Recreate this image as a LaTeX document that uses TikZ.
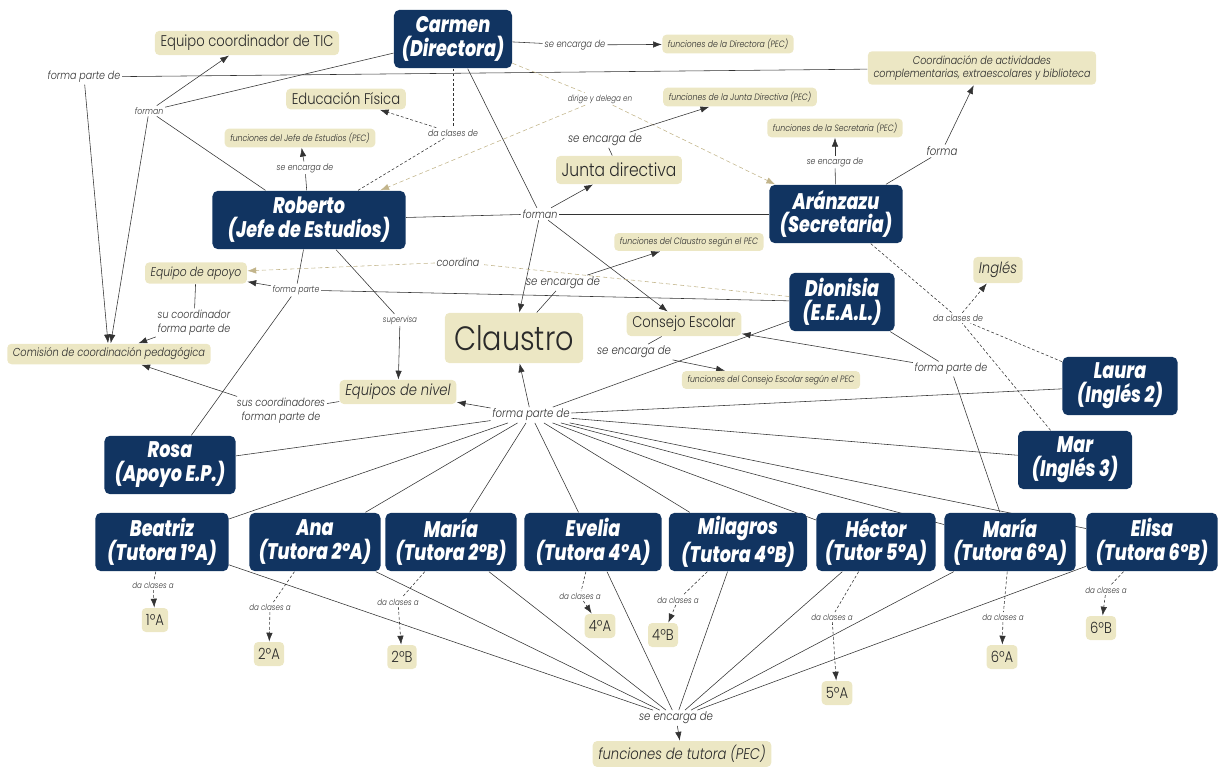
\documentclass[tikz,border=0pt]{standalone}
\usepackage{fontspec}
\setmainfont{Poppins}[FakeStretch=0.85, UprightFont={* Light}, ItalicFont={* Light Italic}]
\newfontfamily\personfont{Poppins}[FakeStretch=0.78, BoldItalicFont={* ExtraBold Italic}]
\usetikzlibrary{arrows.meta, backgrounds}
\definecolor{cnavy}{HTML}{113461}
\definecolor{cbeige}{HTML}{ECE7C4}
\definecolor{ckhaki}{HTML}{C2B48A}
\definecolor{cline}{HTML}{333333}
\definecolor{ctext}{HTML}{2A2A2A}
\tikzset{
  every picture/.style={line width=0.65pt},
  person/.style={fill=cnavy, text=white, rounded corners=4pt, align=center, minimum width=#1, minimum height=1.46cm, inner sep=1pt, font=\personfont\bfseries\itshape\fontsize{16}{17}\selectfont},
  concept/.style={fill=cbeige, text=ctext, rounded corners=3pt, align=center, inner xsep=4pt, inner ysep=3pt, font=\itshape\fontsize{#1}{#1}\selectfont},
  concept/.default=9,
  rconcept/.style={concept=#1, font=\upshape\fontsize{#1}{#1}\selectfont},
  link/.style={text=cline, inner sep=1pt, align=center, font=\itshape\fontsize{#1}{#1}\selectfont},
  link/.default=8,
  conn/.style={draw=cline},
  arr/.style={draw=cline, -{Latex[length=2.2mm, width=1.6mm]}},
  dconn/.style={conn, dash pattern=on 2pt off 1.5pt},
  darr/.style={arr, dash pattern=on 2pt off 1.5pt},
  kconn/.style={draw=ckhaki, dash pattern=on 3pt off 2pt},
  karr/.style={kconn, -{Latex[length=2.2mm, width=1.6mm]}},
}

\begin{document}
\begin{tikzpicture}[x=0.025cm, y=-0.025cm]
  \useasboundingbox (0,0) rectangle (1222,767);
  % equipo directivo y otros
  \node[person=2.95cm] (carmen) at (453,39) {Carmen\\(Directora)};
  \node[person=4.83cm] (roberto) at (309,220) {Roberto\\(Jefe de Estudios)};
  \node[person=3.33cm] (aranzazu) at (836,214) {Aránzazu\\(Secretaria)};
  \node[person=2.63cm] (dionisia) at (842,302) {Dionisia\\(E.E.A.L.)};
  \node[person=2.88cm] (laura) at (1120,386) {Laura\\(Inglés 2)};
  \node[person=2.85cm] (mar) at (1075,460) {Mar\\(Inglés 3)};
  \node[person=3.28cm] (rosa) at (170,465) {Rosa\\(Apoyo E.P.)};
  % tutoras, su grupo y la etiqueta
  \foreach \n/\x/\w/\who/\role/\grp/\gx/\gy/\lx/\ly in {
      beatriz/162/3.33/Beatriz/Tutora 1ºA/1ºA/155/620/153/585,
      ana/315/3.28/Ana/Tutora 2ºA/2ºA/269/654/270/607,
      maria2b/451/3.28/María/Tutora 2ºB/2ºB/402/657/398/602,
      evelia/593/3.43/Evelia/Tutora 4ºA/4ºA/600/626/580/596,
      milagros/738/3.45/Milagros/Tutora 4ºB/4ºB/663/635/678/600,
      hector/876/2.98/Héctor/Tutor 5ºA/5ºA/837/693/832/617,
      maria6a/1010/3.28/María/Tutora 6ºA/6ºA/1002/657/1003/617,
      elisa/1152/3.28/Elisa/Tutora 6ºB/6ºB/1101/628/1106/590} {
    \node[person=\w cm] (\n) at (\x,542) {\who\\(\role)};
    \node[rconcept=11, minimum height=0.6cm, inner xsep=3pt] (g\n) at (\gx,\gy) {\grp};
    \node[link=6] (d\n) at (\lx,\ly) {da clases a};
  }
  % conceptos
  \node[rconcept=11] (tic) at (247,43) {Equipo coordinador de TIC};
  \node[concept=6.5] (fdir) at (728,44) {funciones de la Directora (PEC)};
  \node[concept=8] (coord) at (982,68) {Coordinación de actividades\\[1.5pt]complementarias, extraescolares y biblioteca};
  \node[rconcept=11] (edfis) at (346,99) {Educación Física};
  \node[concept=6.5] (fjunta) at (740,97) {funciones de la Junta Directiva (PEC)};
  \node[concept=6.5] (fjefe) at (300,138) {funciones del Jefe de Estudios (PEC)};
  \node[concept=6.5] (fsecre) at (835,128) {funciones de la Secretaria (PEC)};
  \node[rconcept=13, minimum height=0.7cm] (junta) at (619,170) {Junta directiva};
  \node[concept=6.5] (fclaustro) at (689,242) {funciones del Claustro según el PEC};
  \node[concept=9] (apoyo) at (196,273) {Equipo de apoyo};
  \node[concept=11, minimum height=0.65cm] (ingles) at (998,270) {Inglés};
  \node[rconcept=24, minimum width=3.45cm, minimum height=1.25cm] (claustro) at (514,338) {Claustro};
  \node[rconcept=11] (consejo) at (684,324) {Consejo Escolar};
  \node[concept=8.2] (ccp) at (109,354) {Comisión de coordinación pedagógica};
  \node[concept=6.5] (fconsejo) at (771,380) {funciones del Consejo Escolar según el PEC};
  \node[concept=11] (niveles) at (398,392) {Equipos de nivel};
  \node[concept=11] (ftutora) at (682,754) {funciones de tutora (PEC)};
  % frases de enlace
  \node[link=8] (lfpd1) at (84,77) {forma parte de};
  \node[link=6.5] (lforman1) at (149,111) {forman};
  \node[link=7] (lenc1) at (575,45) {se encarga de};
  \node[link=6] (ldirige) at (600,99) {dirige y delega en};
  \node[link=6.5] (ldaed) at (453,133) {da clases de};
  \node[link=6.5] (lenc2) at (305,168) {se encarga de};
  \node[link=8.5] (lenc3) at (605,140) {se encarga de};
  \node[link=6.5] (lenc4) at (835,162) {se encarga de};
  \node[link=8.5] (lforma) at (942,151) {forma};
  \node[link=8] (lforman2) at (540,214) {forman};
  \node[link=8.5] (lenc5) at (563,283) {se encarga de};
  \node[link=8] (lcoordina) at (458,262) {coordina};
  \node[link=6.5] (lfp) at (296,290) {forma parte};
  \node[link=8] (lsucoord) at (194,323) {su coordinador\\[2pt]forma parte de};
  \node[link=6] (lsuperv) at (400,320) {supervisa};
  \node[link=8] (lsuscoord) at (281,411) {sus coordinadores\\[2pt]forman parte de};
  \node[link=8.5] (lenc6) at (634,352) {se encarga de};
  \node[link=8.5] (lhub) at (531,415) {forma parte de};
  \node[link=8] (lfpd2) at (951,369) {forma parte de};
  \node[link=6.5] (ldaing) at (958,318) {da clases de};
  \node[link=8.5] (lenc7) at (676,718) {se encarga de};

  \begin{scope}[on background layer]
    \draw[conn] (coord) -- (lfpd1);
    \draw[arr] (lfpd1) -- (ccp);
    \draw[conn] (carmen) -- (lforman1);
    \draw[conn] (roberto) -- (lforman1);
    \draw[arr] (lforman1) -- (tic);
    \draw[arr] (lforman1) -- (ccp);
    \draw[conn] (carmen) -- (lenc1);
    \draw[arr] (lenc1) -- (fdir);
    \draw[kconn] (carmen) -- (ldirige);
    \draw[karr] (ldirige) -- (aranzazu);
    \draw[karr] (ldirige) -- (roberto);
    \draw[dconn] (carmen) -- (ldaed);
    \draw[dconn] (roberto) -- (ldaed);
    \draw[darr] (ldaed) -- (edfis);
    \draw[conn] (roberto) -- (lenc2);
    \draw[arr] (lenc2) -- (fjefe);
    \draw[conn] (junta) -- (lenc3);
    \draw[arr] (lenc3) -- (fjunta);
    \draw[conn] (aranzazu) -- (lenc4);
    \draw[arr] (lenc4) -- (fsecre);
    \draw[conn] (aranzazu) -- (lforma);
    \draw[arr] (lforma) -- (coord);
    \foreach \s in {carmen, roberto, aranzazu} \draw[conn] (\s) -- (lforman2);
    \foreach \t in {junta, claustro, consejo} \draw[arr] (lforman2) -- (\t);
    \draw[conn] (claustro) -- (lenc5);
    \draw[arr] (lenc5) -- (fclaustro);
    \draw[kconn] (dionisia) -- (lcoordina);
    \draw[karr] (lcoordina) -- (apoyo);
    \foreach \s in {dionisia, roberto, rosa} \draw[conn] (\s) -- (lfp);
    \draw[arr] (lfp) -- (apoyo);
    \draw[conn] (apoyo) -- (lsucoord);
    \draw[arr] (lsucoord) -- (ccp);
    \draw[conn] (roberto) -- (lsuperv);
    \draw[arr] (lsuperv) -- (niveles);
    \draw[conn] (niveles) -- (lsuscoord);
    \draw[arr] (lsuscoord) -- (ccp);
    \draw[conn] (consejo) -- (lenc6);
    \draw[arr] (lenc6) -- (fconsejo);
    % claustro
    \foreach \s in {rosa, dionisia, laura, mar} \draw[conn] (\s) -- (lhub);
    \draw[arr] (lhub) -- (claustro);
    \draw[arr] (lhub) -- (niveles);
    \foreach \s in {dionisia, maria6a} \draw[conn] (\s) -- (lfpd2);
    \draw[arr] (lfpd2) -- (consejo);
    \foreach \s in {aranzazu, laura, mar} \draw[dconn] (\s) -- (ldaing);
    \draw[darr] (ldaing) -- (ingles);
    % tutoras
    \foreach \n in {beatriz, ana, maria2b, evelia, milagros, hector, maria6a, elisa} {
      \draw[conn] (\n) -- (lhub);
      \draw[conn] (\n) -- (lenc7);
      \draw[dconn] (\n) -- (d\n);
      \draw[darr] (d\n) -- (g\n);
    }
    \draw[arr] (lenc7) -- (ftutora);
  \end{scope}
\end{tikzpicture}
\end{document}
